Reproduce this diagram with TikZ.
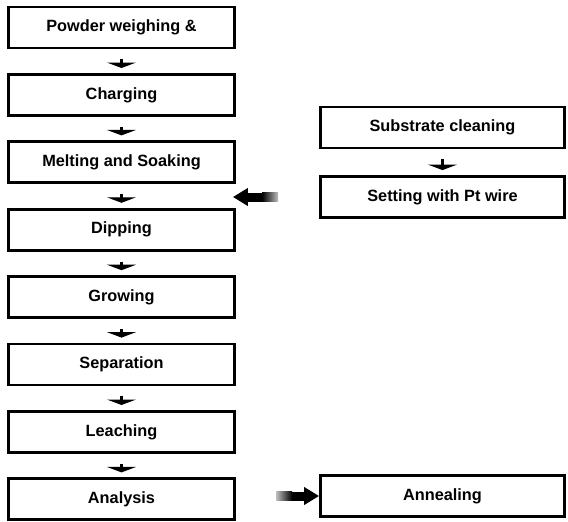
\documentclass[tikz,border=0pt]{standalone}
\usepackage{fontspec}
\setmainfont{Liberation Sans}
\usetikzlibrary{positioning,arrows.meta}

\begin{document}
\begin{tikzpicture}[x=1pt,y=-1pt,
        caja/.style={draw,line width=2.8pt,minimum width=226pt,minimum height=41pt,
            inner sep=0pt,font=\fontsize{16.3}{19}\selectfont\bfseries},
        cajader/.style={caja,minimum width=244pt},
        flechita/.style={line width=3pt,shorten <=10pt,shorten >=5pt,
            -{Triangle[length=5.5pt,width=29pt]}},
        flecha/.style={line width=9pt,-{Triangle[width=17pt,length=15pt]}},
        node distance=23.6pt]
        %colores
        \colorlet{borde}{black}
        \colorlet{cola}{black!25}

        \useasboundingbox (0,0) rectangle (568,522);

        % columna izquierda
        \node[caja] (pow) at (121.5,27.5) {Powder weighing \&};
        \node[caja,below=of pow] (chg) {Charging};
        \node[caja,below=of chg] (melt) {Melting and Soaking};
        \node[caja,below=of melt] (dip) {Dipping};
        \node[caja,below=of dip] (grow) {Growing};
        \node[caja,below=of grow] (sep) {Separation};
        \node[caja,below=of sep] (leach) {Leaching};
        \node[caja,below=of leach] (anal) {Analysis};

        % columna derecha
        \node[cajader] (sub) at (442.5,127.5) {Substrate cleaning};
        \node[cajader,below=25.7pt of sub] (set) {Setting with Pt wire};
        \node[cajader] (anneal) at (442.5,496) {Annealing};

        % flechas chicas
        \foreach \a/\b in {pow/chg,chg/melt,melt/dip,dip/grow,grow/sep,sep/leach,leach/anal,sub/set}
            \draw[flechita] (\a) -- (\b);

        % flechas grandes, cola difusa
        \coordinate (join) at ([xshift=-3pt]melt.east |- set.west);
        \coordinate (settail) at ([xshift=-41pt]set.west);
        \coordinate (anntail) at ([xshift=-43pt]anneal.west);
        \draw[flecha] (settail) -- (join);
        \shade[left color=black,right color=cola] ([xshift=-16pt,yshift=-4.5pt]settail) rectangle ([yshift=4.5pt]settail);
        \draw[flecha] (anntail) -- (anneal.west);
        \shade[left color=cola,right color=black] ([yshift=-4.5pt]anntail) rectangle ([xshift=16pt,yshift=4.5pt]anntail);
    \end{tikzpicture}
\end{document}
